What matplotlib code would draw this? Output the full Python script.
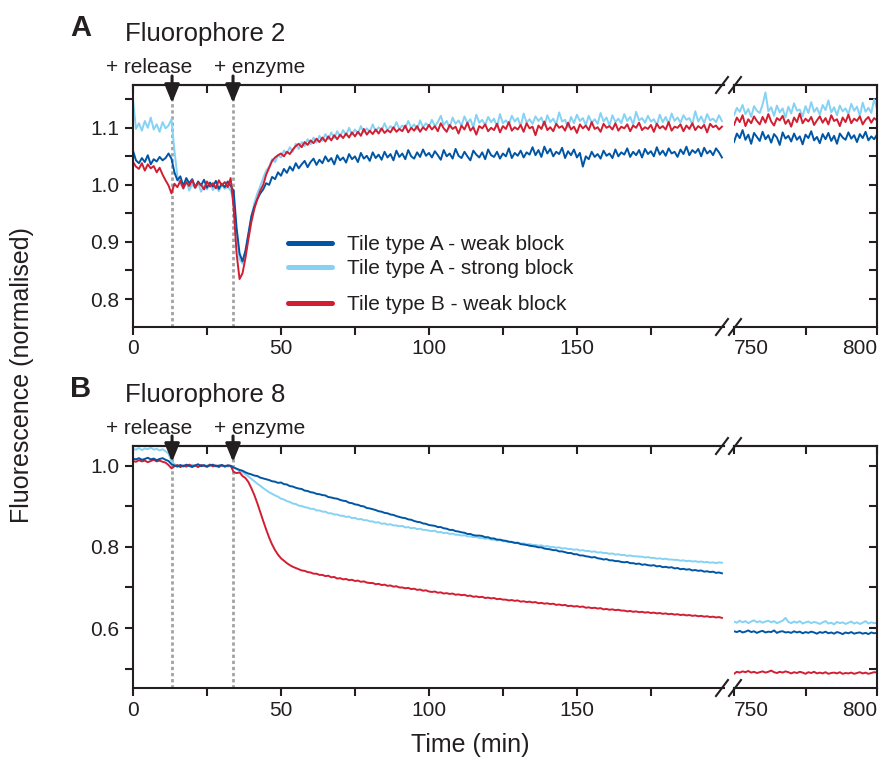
import numpy as np
import matplotlib.pyplot as plt
from matplotlib.lines import Line2D
from matplotlib.ticker import MultipleLocator, FormatStrFormatter

plt.rcParams['font.family'] = ['Liberation Sans', 'DejaVu Sans']

INK = '#231f20'
DARK_BLUE = '#0056a4'
LIGHT_BLUE = '#85d2f5'
RED = '#d21e32'

labels = ['Tile type A - weak block', 'Tile type A - strong block', 'Tile type B - weak block']
t_release = 13.2
t_enzyme = 33.8

# sample times (min): early run and the late read-out
t_left = np.arange(0, 200)
t_right = np.arange(750, 801)

# Fluorophore 2, values x1000
f2_a_weak = [
    1060, 1043, 1038, 1047, 1040, 1052, 1036, 1045, 1041, 1049,
    1043, 1047, 1055, 1046, 1022, 1008, 1015, 998, 1012, 1003,
    1010, 996, 1006, 999, 1009, 995, 1004, 997, 1007, 993,
    1002, 996, 1006, 998, 990, 925, 880, 866, 885, 915,
    945, 962, 975, 985, 992, 1003, 1000, 1014, 1010, 1022,
    1016, 1028, 1021, 1032, 1025, 1038, 1029, 1036, 1042, 1031,
    1040, 1046, 1035, 1044, 1038, 1050, 1041, 1047, 1036, 1052,
    1043, 1048, 1039, 1054, 1045, 1050, 1040, 1056, 1046, 1051,
    1042, 1057, 1047, 1053, 1044, 1058, 1048, 1054, 1043, 1060,
    1049, 1055, 1045, 1061, 1050, 1046, 1057, 1049, 1062, 1051,
    1056, 1048, 1059, 1052, 1044, 1061, 1050, 1055, 1046, 1063,
    1051, 1047, 1058, 1050, 1043, 1060, 1053, 1048, 1057, 1045,
    1062, 1052, 1049, 1058, 1046, 1055, 1050, 1064, 1047, 1056,
    1051, 1060, 1048, 1057, 1053, 1066, 1052, 1061, 1049, 1067,
    1055, 1063, 1050, 1058, 1054, 1065, 1047, 1059, 1052, 1062,
    1048, 1056, 1032, 1050, 1045, 1058, 1049, 1054, 1046, 1060,
    1051, 1055, 1047, 1062, 1050, 1057, 1053, 1064, 1049, 1058,
    1052, 1061, 1048, 1063, 1054, 1059, 1050, 1066, 1053, 1060,
    1051, 1064, 1055, 1058, 1049, 1062, 1054, 1067, 1052, 1061,
    1056, 1063, 1050, 1065, 1055, 1060, 1052, 1064, 1057, 1048,
]
f2_a_strong = [
    1150, 1098, 1108, 1095, 1112, 1100, 1118, 1097, 1106, 1093,
    1110, 1099, 1104, 1115, 1060, 1015, 1002, 993, 1006, 990,
    1001, 994, 1003, 988, 999, 992, 1004, 991, 998, 989,
    1000, 993, 997, 990, 975, 915, 870, 862, 880, 912,
    945, 968, 985, 998, 1012, 1025, 1032, 1045, 1040, 1052,
    1048, 1060, 1055, 1066, 1058, 1072, 1063, 1075, 1068, 1080,
    1071, 1083, 1074, 1086, 1077, 1089, 1080, 1092, 1082, 1094,
    1085, 1096, 1087, 1100, 1088, 1097, 1090, 1103, 1092, 1099,
    1093, 1106, 1094, 1101, 1095, 1108, 1096, 1103, 1097, 1110,
    1098, 1104, 1099, 1112, 1100, 1106, 1097, 1113, 1101, 1108,
    1102, 1114, 1103, 1110, 1121, 1105, 1112, 1100, 1118, 1107,
    1113, 1104, 1120, 1108, 1115, 1101, 1123, 1109, 1114, 1105,
    1119, 1110, 1116, 1102, 1124, 1108, 1113, 1106, 1121, 1111,
    1117, 1103, 1125, 1109, 1115, 1107, 1120, 1112, 1118, 1104,
    1122, 1110, 1116, 1106, 1127, 1111, 1114, 1101, 1119, 1108,
    1123, 1112, 1117, 1105, 1121, 1109, 1115, 1107, 1126, 1111,
    1118, 1104, 1122, 1110, 1116, 1108, 1124, 1112, 1119, 1106,
    1128, 1113, 1117, 1109, 1121, 1111, 1115, 1105, 1123, 1110,
    1119, 1107, 1125, 1112, 1118, 1109, 1122, 1114, 1117, 1106,
    1129, 1111, 1120, 1108, 1124, 1113, 1116, 1110, 1122, 1112,
]
f2_b_weak = [
    1040, 1032, 1028, 1038, 1025, 1036, 1029, 1033, 1022, 1030,
    1018, 1008, 999, 985, 1002, 996, 1007, 994, 1005, 998,
    1009, 995, 1004, 1000, 992, 1006, 997, 1003, 994, 1008,
    999, 1005, 996, 1012, 960, 880, 835, 845, 872, 905,
    935, 958, 975, 990, 1000, 1018, 1030, 1042, 1048, 1052,
    1055, 1050, 1058, 1054, 1062, 1068, 1072, 1066, 1075, 1070,
    1078, 1073, 1081, 1075, 1083, 1076, 1085, 1078, 1087, 1080,
    1088, 1082, 1090, 1083, 1092, 1085, 1093, 1086, 1098, 1088,
    1095, 1089, 1097, 1090, 1099, 1091, 1096, 1092, 1101, 1093,
    1098, 1094, 1104, 1092, 1100, 1095, 1103, 1093, 1101, 1096,
    1105, 1097, 1103, 1094, 1108, 1099, 1093, 1105, 1098, 1102,
    1090, 1104, 1097, 1109, 1095, 1101, 1088, 1103, 1099, 1106,
    1094, 1100, 1096, 1107, 1092, 1103, 1098, 1110, 1095, 1101,
    1097, 1105, 1093, 1108, 1099, 1102, 1087, 1104, 1098, 1111,
    1096, 1101, 1094, 1107, 1100, 1103, 1095, 1109, 1097, 1102,
    1091, 1106, 1099, 1104, 1096, 1110, 1098, 1101, 1093, 1107,
    1100, 1103, 1097, 1108, 1095, 1102, 1099, 1106, 1094, 1104,
    1100, 1109, 1096, 1101, 1098, 1105, 1093, 1107, 1099, 1103,
    1097, 1110, 1095, 1102, 1100, 1106, 1094, 1104, 1098, 1108,
    1096, 1103, 1099, 1105, 1092, 1107, 1101, 1104, 1097, 1102,
]
f2_a_weak_late = [
    1075, 1090, 1082, 1096, 1079, 1088, 1072, 1091, 1084, 1077,
    1093, 1080, 1087, 1074, 1089, 1083, 1070, 1092, 1081, 1086,
    1076, 1090, 1079, 1085, 1071, 1088, 1082, 1094, 1078, 1084,
    1073, 1089, 1080, 1091, 1077, 1086, 1072, 1090, 1083, 1079,
    1092, 1081, 1087, 1075, 1089, 1082, 1093, 1078, 1085, 1080, 1088,
]
f2_a_strong_late = [
    1122, 1135, 1128, 1140, 1124, 1133, 1119, 1138, 1130, 1126,
    1141, 1162, 1129, 1136, 1121, 1139, 1127, 1134, 1118, 1137,
    1125, 1143, 1130, 1132, 1120, 1138, 1126, 1145, 1128, 1135,
    1123, 1140, 1131, 1148, 1127, 1136, 1122, 1139, 1129, 1134,
    1124, 1142, 1130, 1137, 1121, 1144, 1128, 1135, 1126, 1150, 1133,
]
f2_b_weak_late = [
    1105, 1118, 1110, 1122, 1103, 1115, 1108, 1120, 1112, 1106,
    1119, 1109, 1124, 1111, 1104, 1117, 1113, 1121, 1107, 1114,
    1102, 1118, 1110, 1125, 1108, 1116, 1111, 1119, 1105, 1113,
    1120, 1109, 1117, 1106, 1122, 1112, 1115, 1103, 1118, 1110,
    1123, 1108, 1116, 1112, 1120, 1106, 1114, 1119, 1109, 1117, 1113,
]

# Fluorophore 8, values x1000
f8_a_weak = [
    1018, 1016, 1019, 1015, 1017, 1020, 1016, 1018, 1014, 1017,
    1019, 1015, 1012, 1004, 1001, 998, 1002, 999, 1003, 1000,
    997, 1001, 1004, 999, 1002, 998, 1001, 1003, 999, 1000,
    1002, 998, 1001, 1000, 996, 993, 990, 988, 984, 981,
    979, 976, 975, 971, 969, 967, 965, 962, 961, 958,
    959, 955, 954, 950, 949, 946, 944, 943, 939, 938,
    935, 934, 931, 930, 928, 927, 923, 922, 920, 919,
    916, 914, 913, 909, 908, 905, 904, 901, 900, 896,
    895, 893, 891, 888, 887, 884, 883, 880, 879, 876,
    874, 872, 871, 868, 867, 864, 862, 861, 858, 857,
    854, 853, 852, 849, 849, 846, 845, 842, 842, 839,
    838, 836, 835, 832, 832, 829, 828, 828, 827, 824,
    824, 821, 821, 818, 818, 816, 815, 813, 812, 810,
    810, 807, 806, 805, 803, 802, 801, 799, 799, 796,
    795, 794, 792, 792, 789, 789, 787, 785, 785, 782,
    782, 779, 779, 777, 776, 774, 775, 772, 771, 769,
    770, 767, 767, 765, 765, 763, 762, 763, 760, 760,
    758, 759, 756, 757, 755, 754, 755, 752, 753, 750,
    751, 749, 750, 747, 748, 745, 746, 744, 745, 742,
    743, 741, 742, 739, 740, 738, 739, 736, 737, 735,
]
f8_a_strong = [
    1042, 1040, 1044, 1039, 1043, 1041, 1045, 1040, 1042, 1038,
    1041, 1036, 1030, 1012, 1004, 1000, 1002, 998, 1001, 999,
    1003, 1000, 998, 1002, 999, 1001, 1003, 998, 1000, 1002,
    999, 1001, 998, 1000, 996, 992, 988, 984, 979, 974,
    968, 962, 956, 951, 945, 940, 935, 931, 927, 924,
    919, 917, 913, 911, 907, 906, 902, 901, 898, 897,
    894, 894, 890, 890, 887, 887, 883, 883, 880, 880,
    877, 877, 874, 875, 871, 872, 868, 869, 866, 866,
    863, 863, 860, 861, 857, 858, 855, 856, 853, 853,
    851, 852, 848, 849, 846, 847, 844, 845, 842, 842,
    840, 839, 840, 836, 837, 834, 835, 832, 833, 830,
    830, 828, 829, 826, 826, 824, 825, 822, 822, 820,
    821, 818, 818, 816, 817, 814, 814, 812, 813, 810,
    811, 808, 809, 806, 807, 805, 805, 803, 804, 801,
    802, 800, 800, 798, 799, 796, 797, 795, 795, 793,
    794, 791, 792, 790, 790, 788, 789, 786, 787, 785,
    785, 783, 784, 781, 782, 780, 780, 778, 779, 777,
    777, 776, 776, 774, 775, 773, 773, 771, 772, 770,
    771, 769, 769, 768, 768, 766, 767, 765, 766, 764,
    765, 763, 764, 762, 763, 761, 762, 760, 762, 761,
]
f8_b_weak = [
    1012, 1010, 1014, 1011, 1013, 1009, 1012, 1015, 1011, 1013,
    1010, 1008, 1002, 994, 999, 1002, 997, 1001, 998, 1003,
    999, 1001, 997, 1002, 1000, 998, 1003, 999, 1001, 997,
    1002, 999, 1001, 1000, 985, 982, 984, 975, 970, 960,
    945, 928, 908, 886, 864, 843, 823, 806, 792, 781,
    772, 766, 760, 755, 751, 748, 745, 742, 741, 738,
    737, 734, 734, 731, 731, 728, 729, 725, 726, 722,
    723, 720, 721, 718, 719, 716, 717, 714, 715, 712,
    711, 711, 708, 709, 706, 707, 704, 705, 702, 703,
    700, 700, 698, 699, 696, 697, 694, 695, 692, 693,
    690, 689, 690, 687, 688, 685, 686, 684, 685, 682,
    683, 681, 682, 679, 680, 677, 678, 676, 677, 674,
    675, 673, 674, 671, 672, 670, 670, 668, 669, 667,
    668, 665, 666, 664, 665, 663, 664, 661, 662, 660,
    661, 659, 660, 657, 658, 656, 657, 654, 655, 653,
    654, 652, 653, 650, 651, 649, 650, 648, 649, 646,
    647, 645, 646, 644, 645, 643, 643, 641, 642, 640,
    641, 639, 640, 638, 639, 637, 638, 636, 637, 635,
    636, 634, 635, 633, 634, 632, 633, 631, 632, 630,
    631, 629, 630, 628, 629, 627, 628, 626, 627, 625,
]
f8_a_weak_late = [
    592, 590, 593, 589, 591, 594, 590, 592, 588, 591,
    593, 589, 591, 590, 594, 588, 591, 592, 589, 590,
    588, 592, 589, 591, 587, 590, 588, 591, 589, 586,
    590, 588, 591, 587, 589, 586, 590, 588, 585, 589,
    587, 590, 586, 588, 589, 586, 588, 585, 589, 587, 588,
]
f8_a_strong_late = [
    616, 613, 618, 614, 617, 612, 616, 619, 614, 617,
    613, 616, 618, 614, 617, 612, 615, 618, 625, 615,
    612, 616, 613, 617, 611, 614, 616, 612, 615, 613,
    610, 614, 617, 611, 613, 609, 615, 612, 614, 610,
    613, 616, 611, 614, 610, 613, 617, 611, 614, 612, 613,
]
f8_b_weak_late = [
    487, 492, 490, 493, 491, 494, 490, 492, 489, 491,
    493, 490, 492, 495, 491, 489, 492, 490, 493, 491,
    488, 491, 489, 492, 490, 487, 491, 489, 492, 488,
    490, 488, 491, 487, 489, 490, 488, 491, 487, 489,
    488, 490, 487, 489, 491, 488, 490, 487, 489, 491, 490,
]

W, H = 881, 763
fig = plt.figure(figsize=(W / 100, H / 100), dpi=100)


def px_box(x0, x1, ytop, ybot):
    return [x0 / W, 1 - ybot / H, (x1 - x0) / W, (ybot - ytop) / H]


def style_axes(ax, ylim, major, minor, side):
    ax.set_ylim(*ylim)
    ax.yaxis.set_major_locator(MultipleLocator(major))
    ax.yaxis.set_minor_locator(MultipleLocator(minor))
    ax.yaxis.set_major_formatter(FormatStrFormatter('%.1f'))
    ax.xaxis.set_major_locator(MultipleLocator(50))
    ax.xaxis.set_minor_locator(MultipleLocator(25))
    for s in ax.spines.values():
        s.set_linewidth(1.5)
        s.set_color(INK)
    ax.tick_params(axis='x', which='both', direction='out', length=6, width=1.5,
                   color=INK, labelsize=15, labelcolor=INK, pad=3)
    if side == 'left':
        ax.spines['right'].set_visible(False)
        ax.tick_params(axis='y', which='both', direction='out', length=6, width=1.5,
                       color=INK, labelsize=15, labelcolor=INK, pad=4)
    else:
        ax.spines['left'].set_visible(False)
        ax.tick_params(axis='y', which='both', left=False, right=True, labelleft=False,
                       direction='in', length=6, width=1.5, color=INK)
    top = ax.secondary_xaxis('top')
    top.xaxis.set_major_locator(MultipleLocator(25))
    top.tick_params(direction='in', length=6, width=1.5, color=INK, labeltop=False)
    top.spines['top'].set_linewidth(1.5)
    top.spines['top'].set_color(INK)


def make_panel(ytop, ybot, ylim, major, minor, early, late, order, letter, title):
    axl = fig.add_axes(px_box(133, 724, ytop, ybot))
    axr = fig.add_axes(px_box(734, 877, ytop, ybot))
    axl.set_xlim(0, 199.7)
    axr.set_xlim(750, 800)
    style_axes(axl, ylim, major, minor, 'left')
    style_axes(axr, ylim, major, minor, 'right')
    axr.set_xticks([750, 800])
    ticks = axr.xaxis.get_major_ticks()
    ticks[0].label1.set_horizontalalignment('left')
    ticks[1].label1.set_horizontalalignment('right')

    colors = [DARK_BLUE, LIGHT_BLUE, RED]
    for i in order:
        axl.plot(t_left, np.array(early[i]) / 1000, color=colors[i], lw=1.4)
        axr.plot(t_right, np.array(late[i]) / 1000, color=colors[i], lw=1.4)

    for t in (t_release, t_enzyme):
        axl.axvline(t, color='#a3a3a3', lw=2, ls=(0, (1.2, 1.0)), zorder=0)
        arrow_top = 1 + (9 if letter == 'A' else 10) / (ybot - ytop)
        arrow_tip = 1 - (18 if letter == 'A' else 16) / (ybot - ytop)
        axl.annotate('', xy=(t, arrow_tip), xytext=(t, arrow_top),
                     xycoords=('data', 'axes fraction'),
                     arrowprops=dict(arrowstyle='-|>,head_length=1.1,head_width=0.45',
                                     lw=2.2, color=INK, shrinkA=0, shrinkB=0,
                                     mutation_scale=10), annotation_clip=False)
    fig.text(106 / W, 1 - (ytop - 12) / H, '+ release', fontsize=15, color=INK,
             ha='left', va='baseline')
    fig.text(214 / W, 1 - (ytop - 12) / H, '+ enzyme', fontsize=15, color=INK,
             ha='left', va='baseline')
    fig.text(70 / W, 1 - (ytop - 49) / H, letter, fontsize=21, fontweight='bold',
             color=INK, ha='left', va='baseline')
    fig.text(125 / W, 1 - (ytop - 44) / H, title, fontsize=18.5, color=INK,
             ha='left', va='baseline')

    # break marks on the x axis
    for x in (722, 735):
        for y in (ytop, ybot):
            fig.add_artist(Line2D([(x - 6) / W, (x + 6) / W],
                                  [1 - (y + 8) / H, 1 - (y - 8) / H],
                                  color=INK, lw=1.5))
    return axl, axr


axA, axA2 = make_panel(85, 327, (0.751, 1.175), 0.1, 0.05,
                       [f2_a_weak, f2_a_strong, f2_b_weak],
                       [f2_a_weak_late, f2_a_strong_late, f2_b_weak_late],
                       [1, 0, 2], 'A', 'Fluorophore 2')
axB, axB2 = make_panel(446, 688, (0.452, 1.049), 0.2, 0.1,
                       [f8_a_weak, f8_a_strong, f8_b_weak],
                       [f8_a_weak_late, f8_a_strong_late, f8_b_weak_late],
                       [1, 2, 0], 'B', 'Fluorophore 8')

handles = [Line2D([], [], color=c, lw=3.6, solid_capstyle='round')
           for c in (DARK_BLUE, LIGHT_BLUE, RED)]
leg_kw = dict(loc='upper left', bbox_transform=fig.transFigure, frameon=False,
              fontsize=15, handlelength=2.1, handletextpad=0.75, labelspacing=0.25,
              borderpad=0, borderaxespad=0, labelcolor=INK)
leg1 = axA.legend(handles[:2], labels[:2], bbox_to_anchor=(288 / W, 1 - 235 / H), **leg_kw)
axA.add_artist(leg1)
axA.legend(handles[2:], labels[2:], bbox_to_anchor=(288 / W, 1 - 295 / H), **leg_kw)

fig.text(22 / W, 1 - 375 / H, 'Fluorescence (normalised)', fontsize=18, color=INK,
         rotation=90, ha='center', va='center')
fig.text(470 / W, 1 - 745 / H, 'Time (min)', fontsize=18, color=INK,
         ha='center', va='center')

fig.savefig('out.png', dpi=100)
